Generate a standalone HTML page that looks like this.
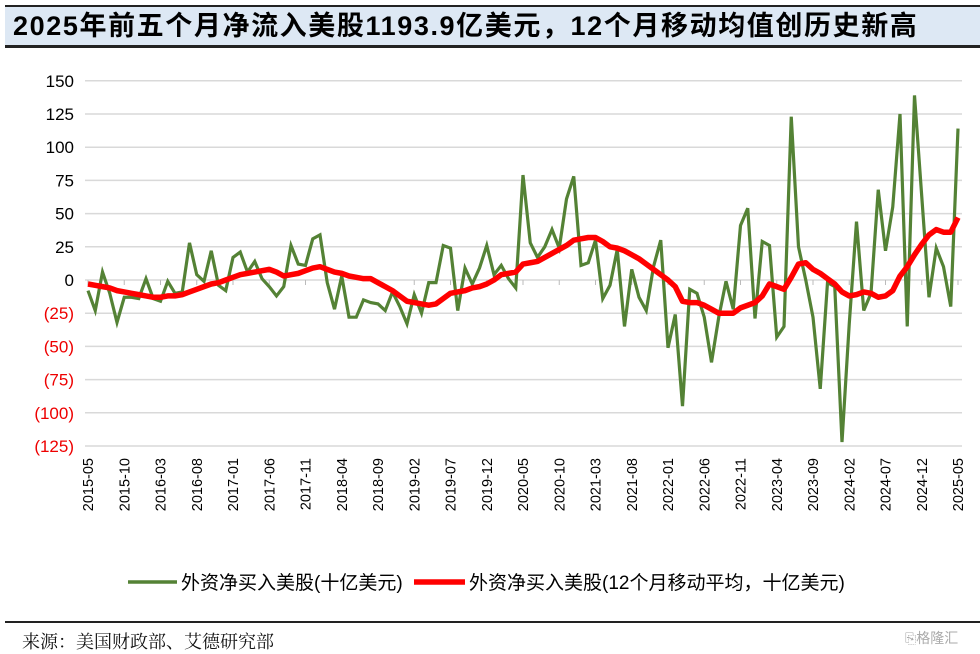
<!DOCTYPE html>
<html><head><meta charset="utf-8"><style>
body{margin:0;background:#fff;width:980px;height:652px;overflow:hidden;font-family:"Liberation Sans","Noto Sans CJK SC",sans-serif;}
#title{position:absolute;left:5px;top:5px;width:967px;height:38px;background:#dde8f4;border-top:2px solid #222;border-bottom:3px solid #222;font-weight:bold;font-size:27px;line-height:38px;padding-left:8px;box-sizing:content-box;color:#000;letter-spacing:1.6px;white-space:nowrap;overflow:hidden}
#src{position:absolute;left:22px;top:628px;font-size:18px;font-family:"Noto Serif CJK SC","Liberation Serif",serif;color:#111}
#rule{position:absolute;left:5px;top:621px;width:975px;height:2px;background:#222}
#wm{position:absolute;left:905px;top:628px;font-size:14px;color:#aaa}
</style></head><body>
<div id="title">2025年前五个月净流入美股1193.9亿美元，12个月移动均值创历史新高</div>
<svg id="chart" width="980" height="652" style="position:absolute;left:0;top:0"></svg>
<div id="rule"></div>
<div id="src">来源：美国财政部、艾德研究部</div>
<div id="wm">⎘格隆汇</div>
<script>
const flows=[-8,-23,6,-10,-32,-13,-13,-14,1,-14,-16,-1,-10,-9,28,4,-1,22,-4,-8,17,21,6,14,1,-5,-12,-5,26,12,11,31,34,-2,-22,3,-28,-28,-15,-17,-18,-23,-9,-20,-33,-11,-25,-2,-2,26,24,-23,9,-3,9,26,4,11,1,-6,79,28,17,25,38,24,61,78,11,13,30,-14,-4,23,-35,8,-13,-23,10,30,-51,-26,-95,-7,-10,-28,-62,-28,-1,-22,41,54,-29,29,26,-43,-35,123,25,0,-28,-82,-2,-5,-122,-33,44,-23,-10,68,22,55,125,-35,139,63,-13,24,10,-20,114];
const avg12=[-3,-4,-5,-6,-8,-9,-10,-11,-12,-13,
-13,-12,-12,-11,-9,-7,-5,-3,-2,0,
2,4,5,6,7,8,6,3,4,5,
7,9,10,8,6,5,3,2,1,1,
-2,-5,-8,-12,-16,-17,-18,-19,-18,-14,
-10,-9,-8,-6,-5,-3,0,4,5,6,
12,13,14,17,20,23,26,30,31,32,
32,29,25,24,22,19,16,12,8,4,
0,-5,-16,-17,-17,-19,-22,-25,-25,-25,
-21,-19,-17,-12,-3,-5,-7,2,12,13,
8,5,1,-3,-9,-12,-11,-9,-10,-13,
-12,-8,3,10,19,27,34,38,36,36,
47];
const yTicks=[150,125,100,75,50,25,0,-25,-50,-75,-100,-125];
const startYear=2015,startMonth=5;
const svg=document.getElementById('chart');
const NS='http://www.w3.org/2000/svg';
const X0=88,X1=958,Y0=280,PPU=1.328;
const xs=i=>X0+i*(X1-X0)/(flows.length-1);
const ys=v=>Y0-v*PPU;
function mk(t,a,txt){const e=document.createElementNS(NS,t);for(const k in a)e.setAttribute(k,a[k]);if(txt!==undefined)e.textContent=txt;svg.appendChild(e);return e;}
yTicks.forEach(v=>{
 const g=mk('line',{x1:85,x2:962,y1:ys(v),y2:ys(v),stroke:'#d9d9d9','stroke-width':1.5});
 
 
 const lab=v<0?'('+(-v)+')':String(v);
 const t=mk('text',{x:74,y:ys(v)+6,'text-anchor':'end','font-size':17,fill:v<0?'#e00':'#000','font-family':'Liberation Sans, sans-serif'},lab);
 
 
});
for(let i=0;i<flows.length;i+=5){
 const tk=mk('line',{x1:xs(i),x2:xs(i),y1:Y0,y2:Y0+5,stroke:'#bbb','stroke-width':1});
 
 
 const m=startMonth-1+i,yr=startYear+Math.floor(m/12),mo=m%12+1;
 const lab=yr+'-'+(mo<10?'0':'')+mo;
 const t=mk('text',{x:0,y:0,'text-anchor':'end','font-size':14.5,fill:'#000',transform:`translate(${xs(i)+5},458) rotate(-90)`,'font-family':'Liberation Sans, sans-serif'},lab);
 
 
}
const p1=mk('polyline',{points:flows.map((v,i)=>xs(i)+','+ys(v)).join(' '),fill:'none',stroke:'#548235','stroke-width':3.2,'stroke-linejoin':'miter'});


const p2=mk('polyline',{points:avg12.map((v,i)=>xs(i)+','+ys(v)).join(' '),fill:'none',stroke:'#ff0000','stroke-width':5.5,'stroke-linejoin':'round'});


const l1=mk('line',{x1:128,x2:177,y1:582,y2:582,stroke:'#548235','stroke-width':3.5});


const t1=mk('text',{x:181,y:589,'font-size':19,fill:'#000'},'外资净买入美股(十亿美元)');


const l2=mk('line',{x1:414,x2:465,y1:582,y2:582,stroke:'#ff0000','stroke-width':5.5});


const t2=mk('text',{x:469,y:589,'font-size':19,fill:'#000'},'外资净买入美股(12个月移动平均，十亿美元)');


</script>
</body></html>
